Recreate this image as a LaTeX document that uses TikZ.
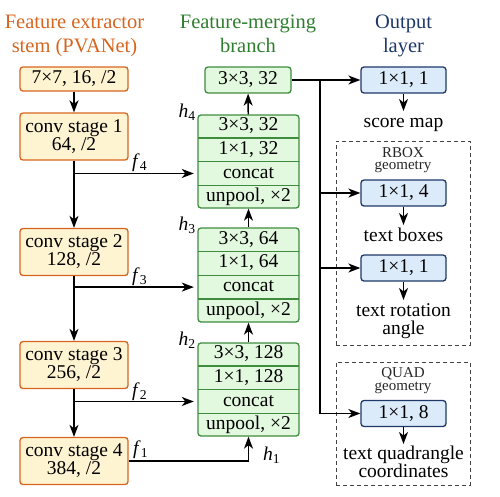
\documentclass[tikz,border=0pt]{standalone}
\usepackage{fontspec}
\setmainfont{Liberation Serif}
\usetikzlibrary{arrows.meta}
\definecolor{stemB}{HTML}{D6651F}
\definecolor{stemF}{HTML}{FFF4D2}
\definecolor{mergB}{HTML}{3F8C3F}
\definecolor{mergF}{HTML}{E2F8DF}
\definecolor{outB}{HTML}{1E3868}
\definecolor{outF}{HTML}{DCEBFA}
\definecolor{titleO}{HTML}{D6651F}
\definecolor{titleG}{HTML}{2F7D2F}
\definecolor{titleB}{HTML}{1E3868}
\definecolor{dashC}{HTML}{444444}
\begin{document}
\begin{tikzpicture}[x=1pt,y=-1pt,
  every node/.style={inner sep=0pt, font=\fontsize{19.5}{18}\selectfont},
  title/.style={align=center, anchor=north, font=\fontsize{20.5}{24}\selectfont},
  one/.style={text height=13.5pt, text depth=4pt},
  stembox/.style={draw=stemB, fill=stemF, rounded corners=3pt, line width=1.3pt, minimum width=108pt, align=center},
  mergbox/.style={draw=mergB, fill=mergF, rounded corners=3pt, line width=1.3pt, minimum width=86pt, minimum height=26pt, one},
  mgroup/.style={draw=mergB, fill=mergF, rounded corners=3pt, line width=1.3pt, minimum width=101pt},
  mrow/.style={minimum width=101pt, anchor=north, one},
  msep/.style={draw=mergB, line width=1.3pt},
  outbox/.style={draw=outB, fill=outF, rounded corners=3pt, line width=1.3pt, minimum width=85pt, minimum height=26pt, one},
  outtext/.style={align=center, anchor=north, inner ysep=2.5pt},
  dashbox/.style={draw=dashC, dash pattern=on 4pt off 3pt, line width=1pt, minimum width=134pt},
  small/.style={align=center, anchor=north, text=black!85, font=\fontsize{15}{12.5}\selectfont},
  lab/.style={font=\fontsize{19.5}{18}\selectfont},
  conn/.style={line width=1.4pt, -{Stealth[length=12pt,width=9pt,inset=3.5pt]}},
  plain/.style={line width=1.4pt},
]
\useasboundingbox (0,0) rectangle (500,496);

% titles
\node[title, text=titleO] (tA) at (74.5,14.5) {Feature extractor\\stem (PVANet)};
\node[title, text=titleG] (tB) at (248,14.5) {Feature-merging\\branch};
\node[title, text=titleB] (tC) at (403.5,14.5) {Output\\layer};

% stem
\node[stembox, minimum height=24pt, one] (s0) at (74,79) {7×7, 16, /2};
\node[stembox, minimum height=47pt] (s1) at (74,136.5) {conv stage 1\\64, /2};
\node[stembox, minimum height=47pt] (s2) at (74,252) {conv stage 2\\128, /2};
\node[stembox, minimum height=47pt] (s3) at (74,365) {conv stage 3\\256, /2};
\node[stembox, minimum height=47pt] (s4) at (74,461) {conv stage 4\\384, /2};

% merging branch
\node[mergbox] (m0) at (248,80) {3×3, 32};

\node[mgroup, minimum height=93pt] (g4) at (248.5,161.5) {};
\node[mrow, minimum height=23.25pt] (g4a) at (g4.north) {3×3, 32};
\node[mrow, minimum height=23.25pt] (g4b) at (g4a.south) {1×1, 32};
\node[mrow, minimum height=23.25pt] (g4c) at (g4b.south) {concat};
\node[mrow, minimum height=23.25pt] (g4d) at (g4c.south) {unpool, ×2};
\draw[msep] (g4a.south west) -- (g4a.south east);
\draw[msep] (g4b.south west) -- (g4b.south east);
\draw[msep] (g4c.south west) -- (g4c.south east);

\node[mgroup, minimum height=94pt] (g3) at (248.5,275) {};
\node[mrow, minimum height=23.5pt] (g3a) at (g3.north) {3×3, 64};
\node[mrow, minimum height=23.5pt] (g3b) at (g3a.south) {1×1, 64};
\node[mrow, minimum height=23.5pt] (g3c) at (g3b.south) {concat};
\node[mrow, minimum height=23.5pt] (g3d) at (g3c.south) {unpool, ×2};
\draw[msep] (g3a.south west) -- (g3a.south east);
\draw[msep] (g3b.south west) -- (g3b.south east);
\draw[msep] (g3c.south west) -- (g3c.south east);

\node[mgroup, minimum height=93pt] (g2) at (248.5,389.5) {};
\node[mrow, minimum height=23.25pt] (g2a) at (g2.north) {3×3, 128};
\node[mrow, minimum height=23.25pt] (g2b) at (g2a.south) {1×1, 128};
\node[mrow, minimum height=23.25pt] (g2c) at (g2b.south) {concat};
\node[mrow, minimum height=23.25pt] (g2d) at (g2c.south) {unpool, ×2};
\draw[msep] (g2a.south west) -- (g2a.south east);
\draw[msep] (g2b.south west) -- (g2b.south east);
\draw[msep] (g2c.south west) -- (g2c.south east);

% h labels
\node[lab, anchor=base east] (h4) at (196,117) {\textit{h}\textsubscript{4}};
\node[lab, anchor=base east] (h3) at (196,230) {\textit{h}\textsubscript{3}};
\node[lab, anchor=base east] (h2) at (196,345) {\textit{h}\textsubscript{2}};
\node[lab, anchor=base west] (h1) at (263,460) {\textit{h}\textsubscript{1}};

% dashed groups
\node[dashbox, minimum height=204pt] (rb) at (403,243) {};
\node[small] (rbl) at (403,147) {RBOX\\geometry};
\node[dashbox, minimum height=123pt] (qd) at (403,423.5) {};
\node[small] (qdl) at (403,367.5) {QUAD\\geometry};

% output layer
\node[outbox] (o1) at (403.5,80) {1×1, 1};
\node[outbox] (o2) at (403.5,193) {1×1, 4};
\node[outbox] (o3) at (403.5,268) {1×1, 1};
\node[outbox] (o4) at (403.5,413.5) {1×1, 8};
\node[outtext, text height=14pt] (t1) at (403.5,111) {score map};
\node[outtext, text height=14pt] (t2) at (403.5,225) {text boxes};
\node[outtext, inner ysep=3.5pt] (t3) at (403.5,300) {text rotation\\angle};
\node[outtext, inner ysep=1.5pt] (t4) at (403.5,444) {text quadrangle\\coordinates};

% stem connectors
\draw[conn] (s0) -- (s1);
\draw[conn] (s1) -- (s2);
\draw[conn] (s2) -- (s3);
\draw[conn] (s3) -- (s4);

% lateral connectors
\draw[conn, shorten >=4pt] (s1.south |- g4c.west) -- (g4c.west);
\draw[conn, shorten >=4pt] (s2.south |- g3c.west) -- (g3c.west);
\draw[conn, shorten >=4pt] (s3.south |- g2c.west) -- (g2c.west);
\draw[conn] (s4.east) -| (g2.south);
\node[lab, anchor=base west] (f4) at (132,167) {\textit{f}\textsubscript{4}};
\node[lab, anchor=base west] (f3) at (132,281) {\textit{f}\textsubscript{3}};
\node[lab, anchor=base west] (f2) at (132,396) {\textit{f}\textsubscript{2}};
\node[lab, anchor=base west] (f1) at (133,454) {\textit{f}\textsubscript{1}};

% merging connectors
\draw[conn] (g2) -- (g3);
\draw[conn] (g3) -- (g4);
\draw[conn] (g4) -- (m0);

% output connectors
\coordinate (bus) at (320,80);
\draw[conn] (m0) -- (o1);
\draw[plain] (bus) -- (bus |- o4.west);
\draw[conn] (bus |- o2.west) -- (o2.west);
\draw[conn] (bus |- o3.west) -- (o3.west);
\draw[conn] (bus |- o4.west) -- (o4.west);
\draw[conn] (o1) -- (t1);
\draw[conn] (o2) -- (t2);
\draw[conn] (o3) -- (t3);
\draw[conn] (o4) -- (t4);
\end{tikzpicture}
\end{document}
